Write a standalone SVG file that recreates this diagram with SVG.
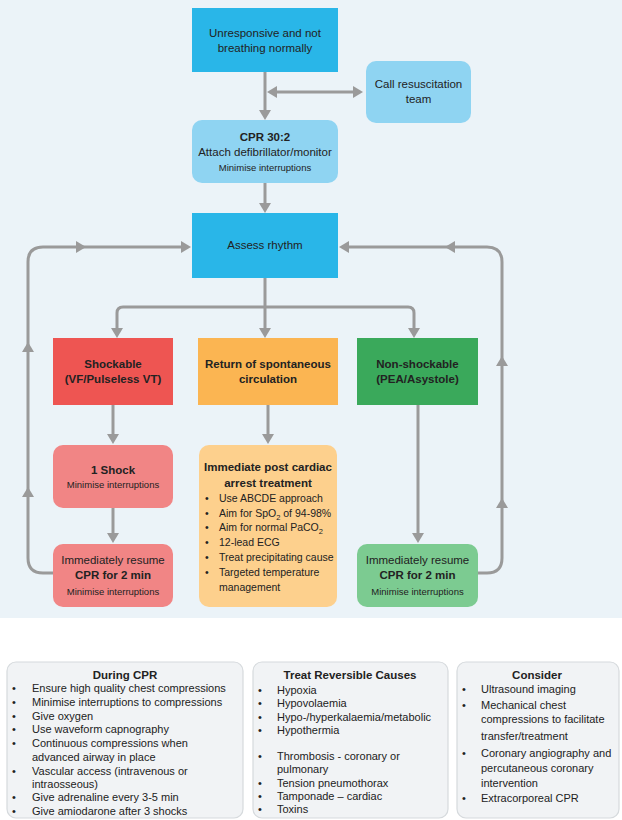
<svg xmlns="http://www.w3.org/2000/svg" xmlns:xlink="http://www.w3.org/1999/xlink" width="622" height="820" viewBox="0 0 622 820">
<style>
text{font-family:"Liberation Sans",Arial,sans-serif;fill:#222;}
.t{font-size:11.5px;text-anchor:middle;}
.b{font-weight:bold;}
.s{font-size:9.5px;text-anchor:middle;}
.l{font-size:10.5px;}
.m{font-size:11px;}
.c{fill:none;stroke:#9a9a9a;stroke-width:3;}
.dark{fill:#29b6e8;}
.light{fill:#8fd4f2;}
.red{fill:#ee5552;}
.pink{fill:#f18585;}
.org{fill:#fbb552;}
.lorg{fill:#fdd08d;}
.grn{fill:#3aa95b;}
.lgrn{fill:#7ccb91;}
.panel{fill:#f1f3f5;stroke:#d6dadd;stroke-width:1.2;}
</style>
<defs>
<polygon id="ah" points="0,0 -10,-6 -10,6" fill="#9a9a9a"/>
</defs>
<rect x="0" y="0" width="622" height="618" fill="#ebf3f8"/>
<rect x="0" y="618" width="622" height="202" fill="#ffffff"/>

<g id="connectors">
<line class="c" x1="265" y1="72" x2="265" y2="112"/>
<use xlink:href="#ah" transform="translate(265,120) rotate(90)"/>
<line class="c" x1="275" y1="92" x2="354" y2="92"/>
<use xlink:href="#ah" transform="translate(267,92) rotate(180)"/>
<use xlink:href="#ah" transform="translate(363,92)"/>
<line class="c" x1="265" y1="183" x2="265" y2="205"/>
<use xlink:href="#ah" transform="translate(265,213) rotate(90)"/>
<path class="c" d="M265,278 V307 M117,330 V313 Q117,307 123,307 H408 Q414,307 414,313 V330 M265,307 V330"/>
<use xlink:href="#ah" transform="translate(117,338) rotate(90)"/>
<use xlink:href="#ah" transform="translate(265,338) rotate(90)"/>
<use xlink:href="#ah" transform="translate(414,338) rotate(90)"/>
<line class="c" x1="113" y1="405" x2="113" y2="435"/>
<use xlink:href="#ah" transform="translate(113,444) rotate(90)"/>
<line class="c" x1="113" y1="508" x2="113" y2="534"/>
<use xlink:href="#ah" transform="translate(113,543) rotate(90)"/>
<line class="c" x1="268" y1="405" x2="268" y2="435"/>
<use xlink:href="#ah" transform="translate(268,444) rotate(90)"/>
<line class="c" x1="418" y1="405" x2="418" y2="534"/>
<use xlink:href="#ah" transform="translate(418,543) rotate(90)"/>
<path class="c" d="M53,573 H43 Q28,573 28,558 V262 Q28,247 43,247 H183"/>
<use xlink:href="#ah" transform="translate(191,247)"/>
<use xlink:href="#ah" transform="translate(86,247)"/>
<use xlink:href="#ah" transform="translate(28,342) rotate(-90)"/>
<use xlink:href="#ah" transform="translate(28,487) rotate(-90)"/>
<path class="c" d="M478,573 H487 Q502,573 502,558 V262 Q502,247 487,247 H347"/>
<use xlink:href="#ah" transform="translate(339,247) rotate(180)"/>
<use xlink:href="#ah" transform="translate(445,247) rotate(180)"/>
<use xlink:href="#ah" transform="translate(502,356) rotate(-90)"/>
<use xlink:href="#ah" transform="translate(502,498) rotate(-90)"/>
</g>

<g id="unresponsive">
<rect class="dark" x="192" y="8" width="146" height="64"/>
<text class="t" x="265" y="37">Unresponsive and not</text>
<text class="t" x="265" y="52">breathing normally</text>
</g>
<g id="call-team">
<rect class="light" x="366" y="61" width="105" height="62" rx="10"/>
<text class="t" x="418.5" y="88">Call resuscitation</text>
<text class="t" x="418.5" y="103">team</text>
</g>
<g id="cpr">
<rect class="light" x="192" y="120" width="146" height="63" rx="10"/>
<text class="t b" x="265" y="141">CPR 30:2</text>
<text class="t" x="265" y="156">Attach defibrillator/monitor</text>
<text class="s" x="265" y="171">Minimise interruptions</text>
</g>
<g id="assess">
<rect class="dark" x="192" y="213" width="146" height="65"/>
<text class="t" x="265" y="249">Assess rhythm</text>
</g>
<g id="shockable">
<rect class="red" x="53" y="338" width="120" height="67"/>
<text class="t b" x="113" y="368">Shockable</text>
<text class="t b" x="113" y="383">(VF/Pulseless VT)</text>
</g>
<g id="rosc">
<rect class="org" x="198" y="338" width="140" height="67"/>
<text class="t b" x="268" y="368">Return of spontaneous</text>
<text class="t b" x="268" y="383">circulation</text>
</g>
<g id="nonshockable">
<rect class="grn" x="357" y="338" width="121" height="67"/>
<text class="t b" x="417.5" y="368">Non-shockable</text>
<text class="t b" x="417.5" y="383">(PEA/Asystole)</text>
</g>
<g id="shock">
<rect class="pink" x="53" y="445" width="120" height="63" rx="10"/>
<text class="t b" x="113" y="474">1 Shock</text>
<text class="s" x="113" y="488">Minimise interruptions</text>
</g>
<g id="resume-shockable">
<rect class="pink" x="53" y="544" width="120" height="63" rx="10"/>
<text class="t" x="113" y="564">Immediately resume</text>
<text class="t b" x="113" y="579">CPR for 2 min</text>
<text class="s" x="113" y="595">Minimise interruptions</text>
</g>
<g id="post-arrest">
<rect class="lorg" x="199" y="445" width="138" height="162" rx="10"/>
<text class="t b" x="268" y="471">Immediate post cardiac</text>
<text class="t b" x="268" y="487">arrest treatment</text>
<g class="l">
<text x="205" y="502">•</text><text x="219" y="502">Use ABCDE approach</text>
<text x="205" y="517">•</text><text x="219" y="517">Aim for SpO<tspan font-size="7.5" dy="2.5">2</tspan><tspan dy="-2.5"> of 94-98%</tspan></text>
<text x="205" y="531">•</text><text x="219" y="531">Aim for normal PaCO<tspan font-size="7.5" dy="2.5">2</tspan></text>
<text x="205" y="546">•</text><text x="219" y="546">12-lead ECG</text>
<text x="205" y="561">•</text><text x="219" y="561">Treat precipitating cause</text>
<text x="205" y="576">•</text><text x="219" y="576">Targeted temperature</text>
<text x="219" y="591">management</text>
</g>
</g>
<g id="resume-nonshockable">
<rect class="lgrn" x="357" y="544" width="121" height="63" rx="10"/>
<text class="t" x="417.5" y="564">Immediately resume</text>
<text class="t b" x="417.5" y="579">CPR for 2 min</text>
<text class="s" x="417.5" y="595">Minimise interruptions</text>
</g>

<g id="during-cpr">
<rect class="panel" x="7" y="662" width="236" height="156" rx="9"/>
<text class="t b" x="125" y="679">During CPR</text>
<g class="m">
<text x="12" y="692">•</text><text x="32" y="692">Ensure high quality chest compressions</text>
<text x="12" y="706">•</text><text x="32" y="706">Minimise interruptions to compressions</text>
<text x="12" y="720">•</text><text x="32" y="720">Give oxygen</text>
<text x="12" y="733">•</text><text x="32" y="733">Use waveform capnography</text>
<text x="12" y="747">•</text><text x="32" y="747">Continuous compressions when</text>
<text x="32" y="761">advanced airway in place</text>
<text x="12" y="775">•</text><text x="32" y="775">Vascular access (intravenous or</text>
<text x="32" y="788">intraosseous)</text>
<text x="12" y="801">•</text><text x="32" y="801">Give adrenaline every 3-5 min</text>
<text x="12" y="815">•</text><text x="32" y="815">Give amiodarone after 3 shocks</text>
</g>
</g>
<g id="reversible">
<rect class="panel" x="253" y="662" width="195" height="156" rx="9"/>
<text class="t b" x="350" y="679">Treat Reversible Causes</text>
<g class="m">
<text x="258" y="694">•</text><text x="277" y="694">Hypoxia</text>
<text x="258" y="707">•</text><text x="277" y="707">Hypovolaemia</text>
<text x="258" y="721">•</text><text x="277" y="721">Hypo-/hyperkalaemia/metabolic</text>
<text x="258" y="734">•</text><text x="277" y="734">Hypothermia</text>
<text x="258" y="760">•</text><text x="277" y="760">Thrombosis - coronary or</text>
<text x="277" y="773">pulmonary</text>
<text x="258" y="787">•</text><text x="277" y="787">Tension pneumothorax</text>
<text x="258" y="800">•</text><text x="277" y="800">Tamponade – cardiac</text>
<text x="258" y="813">•</text><text x="277" y="813">Toxins</text>
</g>
</g>
<g id="consider">
<rect class="panel" x="457" y="662" width="162" height="156" rx="9"/>
<text class="t b" x="537" y="679">Consider</text>
<g class="m">
<text x="462" y="693">•</text><text x="481" y="693">Ultrasound imaging</text>
<text x="462" y="709">•</text><text x="481" y="709">Mechanical chest</text>
<text x="481" y="723">compressions to facilitate</text>
<text x="481" y="740">transfer/treatment</text>
<text x="462" y="757">•</text><text x="481" y="757">Coronary angiography and</text>
<text x="481" y="772">percutaneous coronary</text>
<text x="481" y="787">intervention</text>
<text x="462" y="802">•</text><text x="481" y="802">Extracorporeal CPR</text>
</g>
</g>
</svg>
